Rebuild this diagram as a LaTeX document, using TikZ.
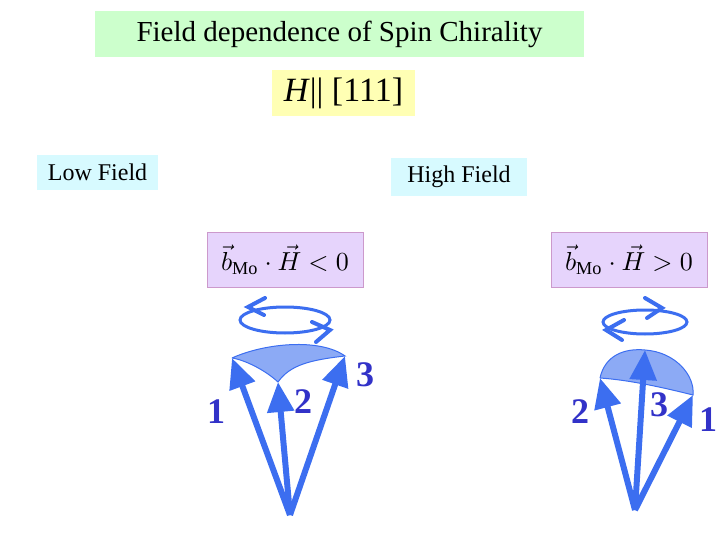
\documentclass[tikz,border=0pt]{standalone}
\usepackage{fontspec}
\setmainfont{Liberation Serif}
\usetikzlibrary{arrows.meta}
\definecolor{ab}{RGB}{60,110,240}
\definecolor{capc}{RGB}{140,170,245}
\definecolor{lab}{RGB}{50,50,200}
\tikzset{
 vec/.style={ab,line width=6pt,-{Triangle[length=30pt,width=26pt]}},
 loop/.style={ab,line width=3pt},
 chev/.style={ab,line width=4pt,line cap=round,line join=miter},
 num/.style={lab,font=\fontsize{36}{36}\selectfont\bfseries},
 pbox/.style={draw=violet!40,fill={rgb,255:red,230;green,212;blue,252},minimum width=156pt,minimum height=55pt},
}
\newcommand{\bhexpr}[1]{\scalebox{2.6}{$\vec b_{\mathrm{Mo}}\cdot\vec H#1 0$}}
\begin{document}
\begin{tikzpicture}[x=1pt,y=-1pt]
\useasboundingbox (0,0) rectangle (720,540);
\node[fill={rgb,255:red,204;green,255;blue,204},minimum width=489pt,minimum height=46pt,font=\fontsize{29}{29}\selectfont] (title) at (339.5,34) {Field dependence of Spin Chirality};
\node[fill={rgb,255:red,255;green,255;blue,180},minimum width=143pt,minimum height=46pt,font=\fontsize{34}{34}\selectfont] (hbox) at (343.5,93) {\textit{H}|| [111]};
\node[fill={rgb,255:red,215;green,250;blue,255},minimum width=121pt,minimum height=35pt,font=\fontsize{24}{24}\selectfont] (low) at (97.5,172.5) {Low Field};
\node[fill={rgb,255:red,215;green,250;blue,255},minimum width=136pt,minimum height=38pt,font=\fontsize{24}{24}\selectfont] (high) at (459,177) {High Field};
\node[pbox] (bl) at (285,259.5) {\bhexpr{<}};
\node[pbox] (br) at (629,259.5) {\bhexpr{>}};
% left
\coordinate (oL) at (290,515);
\coordinate (l1) at (232,358);
\coordinate (l2) at (278,382);
\coordinate (l3) at (345,356);
\fill[capc,draw=ab,line width=1pt] (l1) .. controls (265,343) and (320,338) .. (l3) .. controls (310,360) and (290,365) .. (l2) .. controls (265,370) and (245,360) .. (l1);
\draw[vec] (oL) -- (l1);
\draw[vec] (oL) -- (l2);
\draw[vec] (oL) -- (l3);
\draw[loop] (285,320) ellipse[x radius=45,y radius=13];
\draw[chev] (265,298) -- (248,307) -- (264,315);
\draw[chev] (312,322) -- (330,330) -- (316,342);
\node[num] (n1) at (216,412) {1};
\node[num] (n2) at (303,402) {2};
\node[num] (n3) at (365,375) {3};
% right
\coordinate (oR) at (635,510);
\coordinate (r2) at (600,378);
\coordinate (r3) at (645,350);
\coordinate (r1) at (693,395);
\fill[capc,draw=ab,line width=1pt] (r2) .. controls (605,355) and (625,348) .. (r3) .. controls (675,352) and (695,375) .. (r1) .. controls (665,388) and (630,380) .. (r2);
\draw[vec] (oR) -- (r2);
\draw[vec] (oR) -- (r3);
\draw[vec] (oR) -- (r1);
\draw[loop] (645,322) ellipse[x radius=42,y radius=12];
\draw[chev] (645,298) -- (662,308) -- (647,318);
\draw[chev] (624,320) -- (606,330) -- (622,340);
\node[num] (m2) at (580,412) {2};
\node[num] (m3) at (659,405) {3};
\node[num] (m1) at (708,420) {1};
\end{tikzpicture}
\end{document}
